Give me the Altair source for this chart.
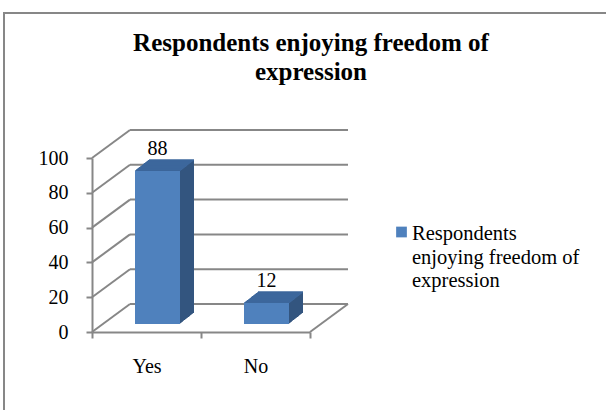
import altair as alt
import pandas as pd

# ---- data ----
categories = ["Yes", "No"]
values = [88, 12]
series_name = ["Respondents enjoying freedom of expression"]
legend_lines = ["Respondents", "enjoying freedom of", "expression"]
title_lines = ["Respondents enjoying freedom of", "expression"]
y_ticks = [0, 20, 40, 60, 80, 100]

df = pd.DataFrame({"cat": categories, "val": values, "series": series_name * len(categories)})
grid_df = pd.DataFrame({"v": y_ticks})
floor_df = pd.DataFrame({"v": [0]})
one_df = pd.DataFrame({"series": series_name})

# ---- style ----
FONT = "Liberation Serif"
GRID = "#878787"
FRONT = "#4f81bd"
TOP = "#3d679c"
SIDE = "#33557f"
DX, DY = 38, -28        # depth of the walls
BX, BY = 11, -8         # bar placed in the middle of the depth
BDX, BDY = 14, -11      # bar depth
N = 14
W, H = 218, 174
BAR_W = 45

y_scale = alt.Scale(domain=[0, 100])
x_scale = alt.Scale(paddingInner=0, paddingOuter=0)

x_axis = alt.Axis(title=None, labelAngle=0, tickBand="extent",
                  domainColor=GRID, domainWidth=2, tickColor=GRID,
                  tickWidth=2, tickSize=6, labelFont=FONT,
                  labelFontSize=20, labelColor="black", labelPadding=18)
y_axis = alt.Axis(title=None, values=y_ticks, grid=False,
                  domainColor=GRID, domainWidth=2, tickColor=GRID,
                  tickWidth=2, tickSize=6, labelFont=FONT,
                  labelFontSize=20, labelColor="black", labelPadding=18)

x_enc = alt.X("cat:N", sort=categories, scale=x_scale, axis=x_axis)
y_enc = alt.Y("val:Q", scale=y_scale, axis=y_axis)

base = alt.Chart(df)

# back wall gridlines
back = alt.Chart(grid_df).mark_rule(color=GRID, strokeWidth=2, xOffset=DX, x2Offset=DX, yOffset=DY).encode(
    x=alt.value(0), x2=alt.value("width"), y=alt.Y("v:Q", scale=y_scale, axis=y_axis))
# side wall diagonals
side = alt.Chart(grid_df).mark_rule(color=GRID, strokeWidth=2, x2Offset=DX, y2Offset=DY).encode(
    x=alt.value(0), x2=alt.value(0), y=alt.Y("v:Q", scale=y_scale, axis=y_axis), y2="v:Q")
# right floor diagonal
floor_r = alt.Chart(floor_df).mark_rule(color=GRID, strokeWidth=2, x2Offset=DX, y2Offset=DY).encode(
    x=alt.value("width"), x2=alt.value("width"), y=alt.Y("v:Q", scale=y_scale, axis=y_axis), y2="v:Q")

layers = [back, side, floor_r]

for k in range(N, 0, -1):
    ox = BX + BDX * k / N
    oy = BY + BDY * k / N
    layers.append(base.mark_bar(width=BAR_W, color=SIDE, xOffset=ox, yOffset=oy, y2Offset=oy).encode(x=x_enc, y=y_enc))
for k in range(N, -1, -1):
    ox = BX + BDX * k / N
    oy = BY + BDY * k / N
    layers.append(base.mark_tick(size=BAR_W, thickness=1.5, color=TOP, opacity=1, xOffset=ox, yOffset=oy).encode(x=x_enc, y=y_enc))

front = base.mark_bar(width=BAR_W, xOffset=BX, yOffset=BY, y2Offset=BY).encode(
    x=x_enc, y=y_enc,
    color=alt.Color("series:N", scale=alt.Scale(range=[FRONT]), legend=None))
labels = base.mark_text(font=FONT, fontSize=20, color="black", baseline="alphabetic",
                        xOffset=BX, yOffset=BY + BDY - 5).encode(x=x_enc, y=y_enc, text="val:Q")

leg_sym = alt.Chart(one_df).mark_square(size=115, opacity=1).encode(
    x=alt.value(309.5), y=alt.value(74),
    color=alt.Color("series:N", scale=alt.Scale(range=[FRONT]), legend=None))
leg_txt = alt.Chart(one_df).mark_text(font=FONT, fontSize=20.5, color="black", align="left",
                                      baseline="alphabetic", lineHeight=23.5).encode(
    x=alt.value(320), y=alt.value(82), text=alt.value(legend_lines))

title_txt = alt.Chart(one_df).mark_text(font=FONT, fontSize=25, fontWeight="bold", color="black",
                                        align="center", baseline="alphabetic", lineHeight=28.5).encode(
    x=alt.value(219), y=alt.value(-107), text=alt.value(title_lines))

frame = alt.Chart(one_df).mark_rect(fill=None, stroke=GRID, strokeWidth=2).encode(
    x=alt.value(-88), x2=alt.value(530), y=alt.value(-145), y2=alt.value(270))

layers += [front, labels, leg_sym, leg_txt, title_txt, frame]

chart = alt.layer(*layers).properties(
    width=W, height=H,
    padding={"left": 92, "top": 158, "right": 606 - 92 - W, "bottom": 410 - 158 - H},
    autosize=alt.AutoSizeParams(type="none"),
).configure(background="white").configure_view(stroke=None)

chart.save("out.html", embed_options={"renderer": "svg", "actions": False})
